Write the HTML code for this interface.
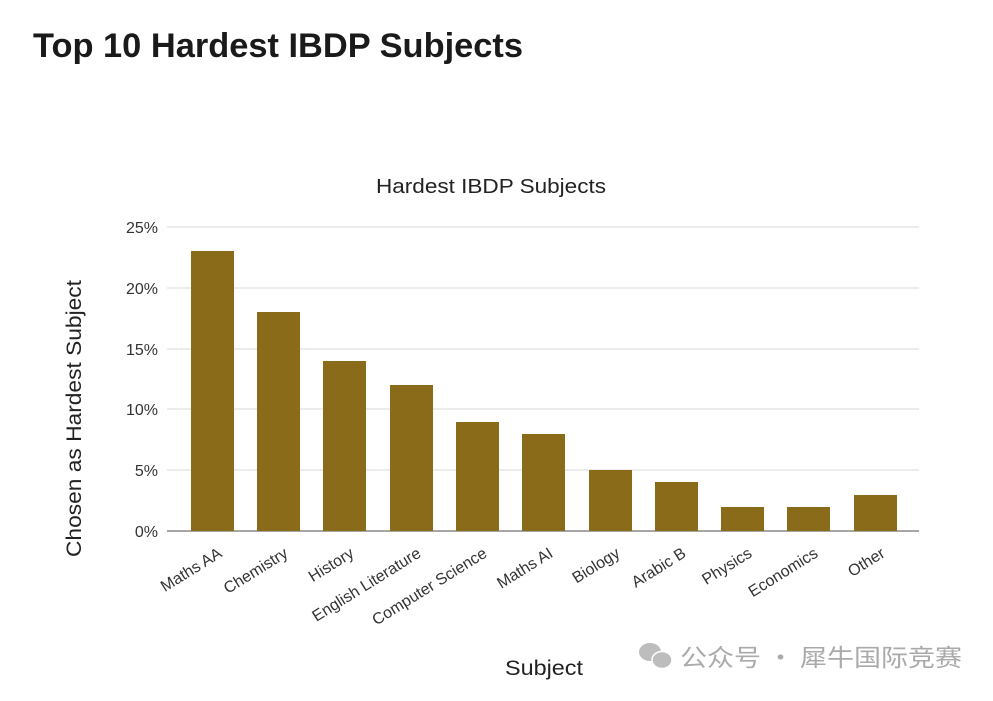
<!DOCTYPE html>
<html><head><meta charset="utf-8"><style>
body{margin:0;background:#fff;width:993px;height:696px;overflow:hidden;font-family:"Liberation Sans",sans-serif}
</style></head><body>
<svg width="993" height="696" xmlns="http://www.w3.org/2000/svg" font-family="Liberation Sans, sans-serif">
<text x="33" y="57" font-size="34" font-weight="bold" fill="#1a1a1a" textLength="490" lengthAdjust="spacingAndGlyphs">Top 10 Hardest IBDP Subjects</text>
<text x="376" y="193" font-size="20" fill="#222" textLength="230" lengthAdjust="spacingAndGlyphs">Hardest IBDP Subjects</text>
<g stroke="#d9d9d9" stroke-width="1">
<line x1="167" x2="919" y1="227" y2="227"/><line x1="167" x2="919" y1="288" y2="288"/>
<line x1="167" x2="919" y1="349" y2="349"/><line x1="167" x2="919" y1="409" y2="409"/>
<line x1="167" x2="919" y1="470" y2="470"/>
</g>
<line x1="167" x2="919" y1="531" y2="531" stroke="#888" stroke-width="1.5"/>
<g font-size="16" fill="#333" text-anchor="end">
<text x="158" y="233">25%</text><text x="158" y="294">20%</text><text x="158" y="355">15%</text>
<text x="158" y="415">10%</text><text x="158" y="476">5%</text><text x="158" y="537">0%</text>
</g>
<g fill="#8a6b1a">
<rect x="191" y="251" width="43" height="280"/>
<rect x="257" y="312" width="43" height="219"/>
<rect x="323" y="361" width="43" height="170"/>
<rect x="390" y="385" width="43" height="146"/>
<rect x="456" y="422" width="43" height="109"/>
<rect x="522" y="434" width="43" height="97"/>
<rect x="589" y="470" width="43" height="61"/>
<rect x="655" y="482" width="43" height="49"/>
<rect x="721" y="507" width="43" height="24"/>
<rect x="787" y="507" width="43" height="24"/>
<rect x="854" y="495" width="43" height="36"/>
</g>
<g font-size="16" fill="#333" text-anchor="end">
<text transform="translate(223,556) rotate(-32)">Maths AA</text>
<text transform="translate(289,556) rotate(-32)">Chemistry</text>
<text transform="translate(355,556) rotate(-32)">History</text>
<text transform="translate(422,556) rotate(-32)">English Literature</text>
<text transform="translate(488,556) rotate(-32)">Computer Science</text>
<text transform="translate(554,556) rotate(-32)">Maths AI</text>
<text transform="translate(621,556) rotate(-32)">Biology</text>
<text transform="translate(687,556) rotate(-32)">Arabic B</text>
<text transform="translate(753,556) rotate(-32)">Physics</text>
<text transform="translate(819,556) rotate(-32)">Economics</text>
<text transform="translate(886,556) rotate(-32)">Other</text>
</g>
<text transform="translate(81,557) rotate(-90)" font-size="21" fill="#222" textLength="277" lengthAdjust="spacingAndGlyphs">Chosen as Hardest Subject</text>
<text x="505" y="675" font-size="21" fill="#222" textLength="78" lengthAdjust="spacingAndGlyphs">Subject</text>
<g fill="#bdbdbd">
<ellipse cx="650" cy="652" rx="11" ry="9"/>
<ellipse cx="662" cy="660" rx="10" ry="8.5" stroke="#fff" stroke-width="1.5"/>
</g>
<text x="680" y="666" font-size="24" fill="#aaa" font-family="Noto Sans CJK SC, sans-serif" textLength="282" lengthAdjust="spacingAndGlyphs">公众号 · 犀牛国际竞赛</text>
</svg>
</body></html>
